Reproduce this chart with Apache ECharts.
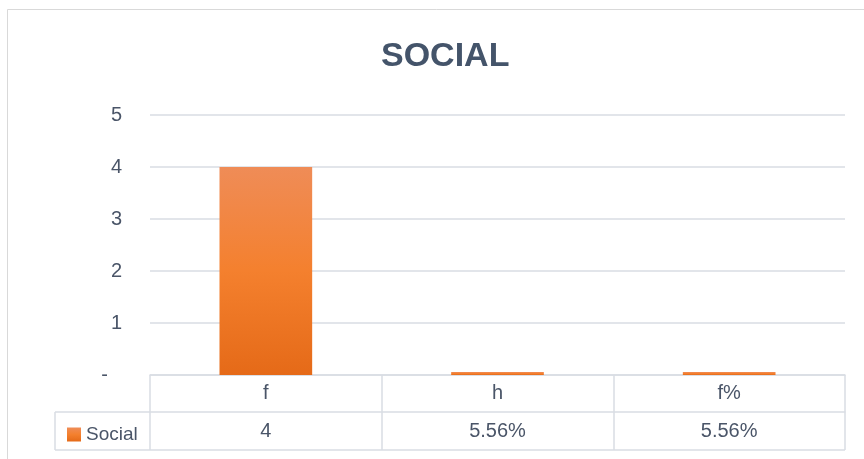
<!DOCTYPE html>
<html>
<head>
<meta charset="utf-8">
<script src="https://cdn.jsdelivr.net/npm/echarts@6/dist/echarts.min.js"></script>
<style>
  html, body { margin: 0; padding: 0; background: #fff; }
  #chart { width: 864px; height: 459px; }
</style>
</head>
<body>
<div id="chart"></div>
<script>
// data
const categories = ['f', 'h', 'f%']
const socialValues = [4, 0.0556, 0.0556]
const tableLabels = ['4', '5.56%', '5.56%']
const seriesName = 'Social'

const textColor = '#4a5568'
const lineColor = '#d9dde3'
const font = 'Liberation Sans'

const chart = echarts.init(document.getElementById('chart'))

const barColor = new echarts.graphic.LinearGradient(0, 0, 0, 1, [
  { offset: 0, color: '#ef8c57' },
  { offset: 0.5, color: '#f4802e' },
  { offset: 1, color: '#e56a18' }
])

const option = {
  animation: false,
  backgroundColor: '#fff',
  title: {
    text: 'SOCIAL',
    left: 376,
    top: 35,
    textStyle: { fontFamily: font, fontSize: 34, fontWeight: 'bold', color: '#44546a' }
  },
  legend: {
    left: 62,
    top: 420,
    icon: 'rect',
    itemWidth: 14,
    itemHeight: 14,
    itemGap: 5,
    textStyle: { fontFamily: font, fontSize: 19, color: textColor },
    data: [seriesName]
  },
  grid: {
    left: 150,
    right: 19,
    top: 115,
    bottom: 84,
    outerBoundsMode: 'none'
  },
  xAxis: [
    {
      type: 'category',
      data: categories,
      position: 'bottom',
      axisLine: { show: true, lineStyle: { color: lineColor, width: 1.5 } },
      axisTick: { show: true, length: 75, alignWithLabel: false, lineStyle: { color: lineColor, width: 1.5 } },
      axisLabel: { margin: 8, fontFamily: font, fontSize: 20, color: textColor }
    },
    {
      type: 'category',
      data: categories,
      position: 'bottom',
      offset: 37,
      axisLine: { show: true, lineStyle: { color: lineColor, width: 1.5 } },
      axisTick: { show: false },
      axisLabel: {
        margin: 9,
        fontFamily: font,
        fontSize: 20,
        color: textColor,
        formatter: (v, i) => tableLabels[i]
      }
    }
  ],
  yAxis: {
    type: 'value',
    min: 0,
    max: 5,
    interval: 1,
    axisLine: { show: false },
    axisTick: { show: false },
    splitLine: { lineStyle: { color: lineColor, width: 1.5 } },
    axisLabel: {
      margin: 28,
      fontFamily: font,
      fontSize: 20,
      color: textColor,
      formatter: v => (v === 0 ? '{d|-}' : String(v)),
      rich: { d: { fontFamily: font, fontSize: 20, color: textColor, padding: [0, 14, 0, 0] } }
    }
  },
  series: [
    {
      name: seriesName,
      type: 'bar',
      xAxisIndex: 0,
      data: socialValues,
      barWidth: '40%',
      itemStyle: { color: barColor }
    }
  ],
  graphic: [
    // outer chart frame
    { type: 'rect', left: 5, top: 7, shape: { width: 900, height: 500 }, style: { fill: 'none', stroke: '#d9d9d9', lineWidth: 1 } },
    // legend cell of the data table
    { type: 'line', shape: { x1: 55, y1: 412, x2: 150, y2: 412 }, style: { stroke: lineColor, lineWidth: 1.5 } },
    { type: 'line', shape: { x1: 55, y1: 412, x2: 55, y2: 450 }, style: { stroke: lineColor, lineWidth: 1.5 } },
    { type: 'line', shape: { x1: 55, y1: 450, x2: 845, y2: 450 }, style: { stroke: lineColor, lineWidth: 1.5 } }
  ]
}

chart.setOption(option)
</script>
</body>
</html>
